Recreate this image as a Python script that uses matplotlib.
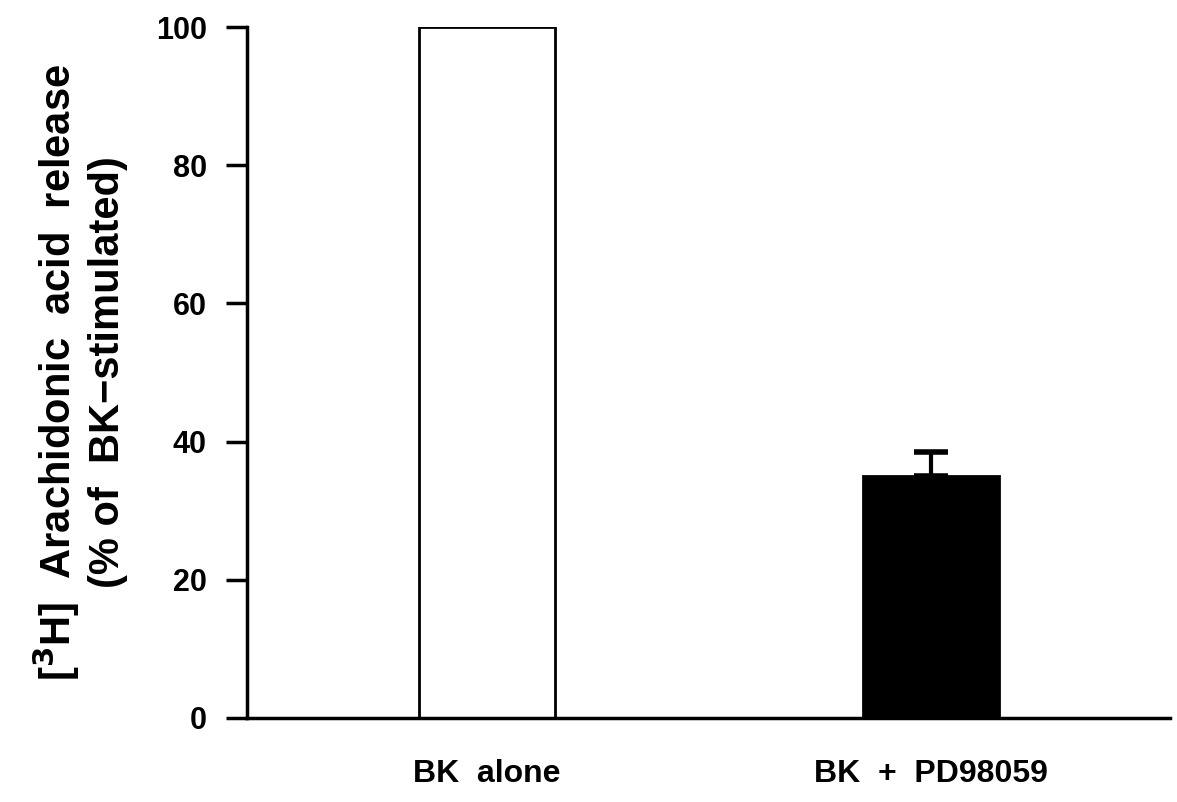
import matplotlib
matplotlib.use('Agg')
import matplotlib.pyplot as plt

# data
groups = ['BK  alone', 'BK  +  PD98059']
release = [100, 35]
sem = [0, 3.5]
colors = ['white', 'black']

plt.rcParams['font.family'] = ['Liberation Sans', 'DejaVu Sans']
plt.rcParams['font.weight'] = 'bold'

fig = plt.figure(figsize=(11.77, 8.02), dpi=100)
ax = fig.add_axes([0.21, 0.105, 0.784, 0.861])

pos = list(range(len(groups)))
ax.bar(pos, release, width=0.306, color=colors, edgecolor='black', linewidth=2, zorder=2)
ax.errorbar(pos[1], release[1], yerr=[[0], [sem[1]]], fmt='none', ecolor='black',
            elinewidth=3, capsize=12, capthick=4, zorder=3)

ax.set_xlim(-0.54, 1.538)
ax.set_ylim(0, 100)
ax.set_yticks([0, 20, 40, 60, 80, 100])
ax.set_xticks(pos)
ax.set_xticklabels(groups, fontsize=23, fontweight='bold')
ax.tick_params(axis='x', length=0, pad=30)
ax.tick_params(axis='y', length=15, width=2.5, labelsize=22, pad=14, direction='out')
for lab in ax.get_yticklabels():
    lab.set_fontweight('bold')

ax.spines['top'].set_visible(False)
ax.spines['right'].set_visible(False)
ax.spines['left'].set_linewidth(2.5)
ax.spines['bottom'].set_linewidth(2.5)
ax.spines['left'].set_zorder(4)

ax.set_ylabel('[$^\\mathbf{3}$H]  Arachidonic  acid  release\n(% of  BK\u2212stimulated)',
              fontsize=30, fontweight='bold', labelpad=20, linespacing=1.2)

fig.savefig('out.png', dpi=100)
